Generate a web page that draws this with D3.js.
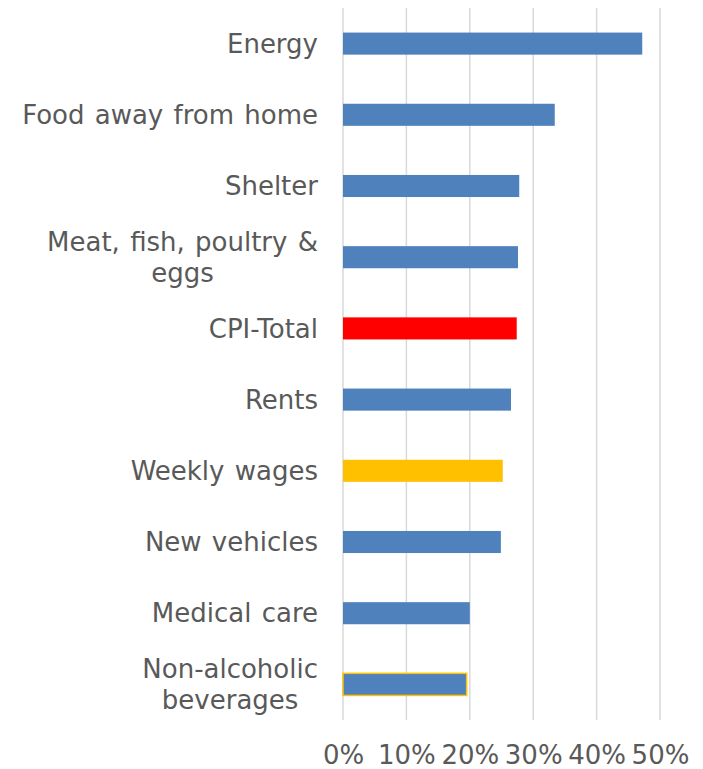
<!DOCTYPE html>
<html>
<head>
<meta charset="utf-8">
<script src="https://cdn.jsdelivr.net/npm/d3@7"></script>
<style>
  body { margin: 0; background: #fff; }
  text { font-family: "DejaVu Sans", Verdana, sans-serif; fill: #595959; }
</style>
</head>
<body>
<div id="chart"></div>
<script>
const categories = [
  ["Energy"],
  ["Food away from home"],
  ["Shelter"],
  ["Meat, fish, poultry &", "eggs"],
  ["CPI-Total"],
  ["Rents"],
  ["Weekly wages"],
  ["New vehicles"],
  ["Medical care"],
  ["Non-alcoholic", "beverages"]
];
const values = [47.2, 33.4, 27.8, 27.6, 27.4, 26.5, 25.2, 24.9, 20.0, 19.5];
const fills = ["#4F81BD", "#4F81BD", "#4F81BD", "#4F81BD", "#FF0000", "#4F81BD", "#FFC000", "#4F81BD", "#4F81BD", "#4F81BD"];
const strokes = [null, null, null, null, null, null, null, null, null, "#FFC000"];
const xTicks = [0, 10, 20, 30, 40, 50];

const width = 703, height = 769;
const margin = { left: 343, right: 43, top: 8, bottom: 49 };
const fontSize = "26px";

const svg = d3.select("#chart").append("svg")
  .attr("width", width)
  .attr("height", height);

const x = d3.scaleLinear()
  .domain([0, 50])
  .range([margin.left, width - margin.right]);

const y = d3.scaleBand()
  .domain(d3.range(categories.length))
  .range([margin.top, height - margin.bottom])
  .paddingInner(0.69)
  .paddingOuter(0.345);

// gridlines
svg.append("g")
  .selectAll("line")
  .data(xTicks)
  .join("line")
  .attr("x1", d => x(d))
  .attr("x2", d => x(d))
  .attr("y1", margin.top)
  .attr("y2", height - margin.bottom)
  .attr("stroke", "#D9D9D9")
  .attr("stroke-width", 1.5);

// bars
svg.append("g")
  .selectAll("rect")
  .data(values)
  .join("rect")
  .attr("x", x(0))
  .attr("y", (d, i) => y(i))
  .attr("width", d => x(d) - x(0))
  .attr("height", y.bandwidth())
  .attr("fill", (d, i) => fills[i])
  .attr("stroke", (d, i) => strokes[i] || "none")
  .attr("stroke-width", 1.5);

// x axis
const xAxis = d3.axisBottom(x)
  .tickValues(xTicks)
  .tickFormat(d => d + "%")
  .tickSize(0)
  .tickPadding(0);

const xg = svg.append("g")
  .attr("transform", `translate(0, 746)`)
  .call(xAxis);
xg.select(".domain").remove();
xg.selectAll(".tick text")
  .style("font-size", fontSize)
  .style("font-family", "'DejaVu Sans', Verdana, sans-serif")
  .attr("fill", "#595959");

// category labels
const labelRight = 318;
const lineH = 31;
const lab = svg.append("g")
  .attr("font-size", fontSize)
  .attr("word-spacing", "2px");

categories.forEach((lines, i) => {
  const cy = y(i) + y.bandwidth() / 2;
  if (lines.length === 1) {
    lab.append("text")
      .attr("x", labelRight)
      .attr("y", cy)
      .attr("dy", "0.35em")
      .attr("text-anchor", "end")
      .text(lines[0]);
  } else {
    // wrapped labels are centred on the widest line, which sits flush right
    const t = lab.append("text").attr("text-anchor", "middle");
    lines.forEach((s, k) => {
      t.append("tspan")
        .attr("y", cy + (k - (lines.length - 1) / 2) * lineH)
        .attr("dy", "0.35em")
        .text(s);
    });
    const w = d3.max(t.selectAll("tspan").nodes(), n => n.getComputedTextLength());
    t.selectAll("tspan").attr("x", labelRight - w / 2);
  }
});
</script>
</body>
</html>
